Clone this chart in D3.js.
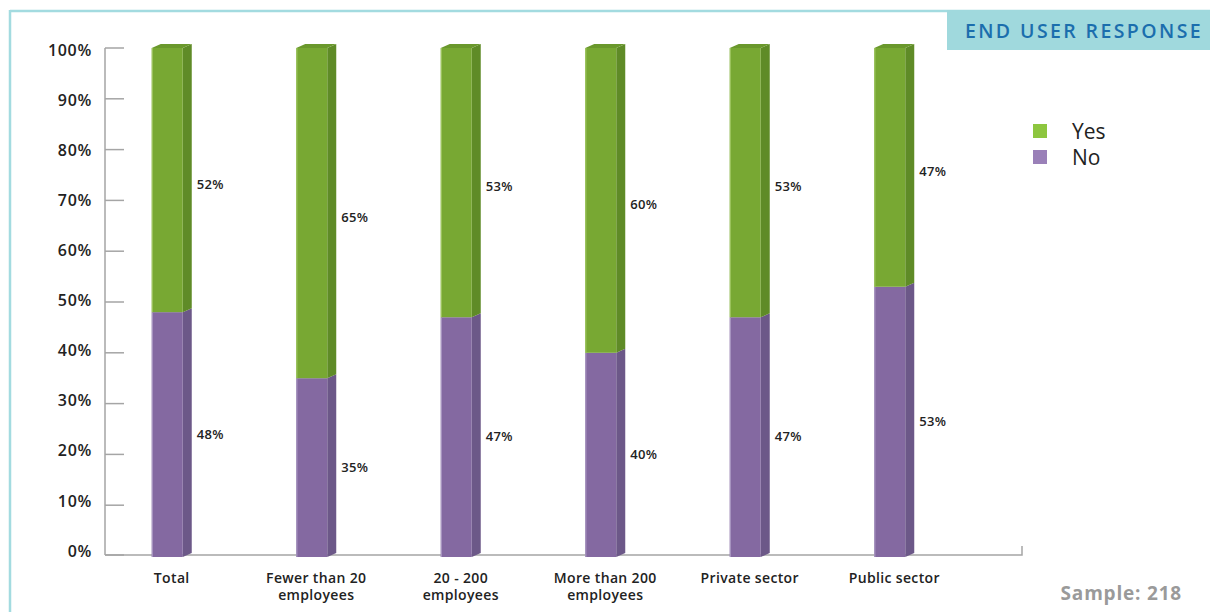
<!DOCTYPE html>
<html>
<head>
<meta charset="utf-8">
<script src="https://cdn.jsdelivr.net/npm/d3@7"></script>
<style>
  html, body { margin: 0; padding: 0; background: #fff; }
  svg { display: block; font-family: "Open Sans", "Lato", sans-serif; }
</style>
</head>
<body>
<svg id="chart" width="1210" height="612"></svg>
<script>
// Survey answers per group (percent of respondents)
const categories = [
  ["Total"],
  ["Fewer than 20", "employees"],
  ["20 - 200", "employees"],
  ["More than 200", "employees"],
  ["Private sector"],
  ["Public sector"]
];
const noValues  = [48, 35, 47, 40, 47, 53];
const yesValues = [52, 65, 53, 60, 53, 47];
const yTicks = [0, 10, 20, 30, 40, 50, 60, 70, 80, 90, 100];
const seriesNames = ["Yes", "No"];

const svg = d3.select("#chart");

// Frame and header tab
svg.append("line").attr("x1", 10).attr("y1", 11).attr("x2", 1210).attr("y2", 11)
  .attr("stroke", "#a3dbe0").attr("stroke-width", 2.5);
svg.append("line").attr("x1", 10).attr("y1", 10).attr("x2", 10).attr("y2", 612)
  .attr("stroke", "#a3dbe0").attr("stroke-width", 2.5);
svg.append("rect").attr("x", 947).attr("y", 10).attr("width", 263).attr("height", 40)
  .attr("fill", "#a0d9dd");
svg.append("text").attr("x", 1084).attr("y", 38).attr("text-anchor", "middle")
  .attr("font-size", 19.5).attr("font-weight", 600).attr("fill", "#1b6ead")
  .attr("letter-spacing", 2.4)
  .text("END USER RESPONSE");

const y = d3.scaleLinear().domain([0, 100]).range([556, 48]);
// tick labels sit on a slightly tighter spread than the tick marks
const yLabel = d3.scaleLinear().domain([0, 100]).range([551, 50]);
const x = d3.scaleBand().domain(d3.range(categories.length)).range([95, 962]).padding(0);
const barW = 31, depth = 9, lift = 4;

// Y axis
svg.selectAll(".ylab").data(yTicks).join("text")
  .attr("x", 92).attr("y", d => yLabel(d)).attr("dy", "0.35em").attr("text-anchor", "end")
  .attr("font-size", 16).attr("font-weight", 600).attr("fill", "#222").attr("letter-spacing", 0.7)
  .text(d => d + "%");
svg.append("line").attr("x1", 105).attr("x2", 105).attr("y1", y(100)).attr("y2", y(0) - 1)
  .attr("stroke", "#a5a5a5").attr("stroke-width", 1.5);
svg.selectAll(".ytick").data(yTicks).join("line")
  .attr("x1", 105).attr("x2", 124).attr("y1", d => y(d) - (d === 0 ? 1 : 0)).attr("y2", d => y(d) - (d === 0 ? 1 : 0))
  .attr("stroke", "#a5a5a5").attr("stroke-width", 1.5);
// Baseline with end tick
svg.append("path").attr("d", `M105,${y(0) - 1}H1022V${y(0) - 10}`)
  .attr("fill", "none").attr("stroke", "#a5a5a5").attr("stroke-width", 1.5);

// Stacked 3D bars
const colors = {
  Yes: { front: "#78a833", side: "#5f8b27", top: "#6a982c", edge: "#9cc45e" },
  No:  { front: "#8469a1", side: "#6c5888", top: "#76609a", edge: "#a896c0" }
};
const segments = [];
categories.forEach((c, i) => {
  segments.push({ i, key: "No", y0: 0, y1: noValues[i], v: noValues[i] });
  segments.push({ i, key: "Yes", y0: noValues[i], y1: noValues[i] + yesValues[i], v: yesValues[i] });
});
const bx = i => x(i) + x.bandwidth() / 2 - barW / 2;

const gb = svg.append("g");
segments.forEach(s => {
  const x0 = bx(s.i), top = y(s.y1), bot = y(s.y0) + (s.y0 === 0 ? 1 : 0);
  const c = colors[s.key];
  gb.append("path")
    .attr("d", `M${x0 + barW},${top}L${x0 + barW + depth},${top - lift}L${x0 + barW + depth},${bot - lift}L${x0 + barW},${bot}Z`)
    .attr("fill", c.side);
  gb.append("rect").attr("x", x0).attr("y", top).attr("width", barW).attr("height", bot - top)
    .attr("fill", c.front);
  gb.append("rect").attr("x", x0).attr("y", top).attr("width", 1.2).attr("height", bot - top)
    .attr("fill", c.edge);
  if (s.y1 >= 100) {
    gb.append("path")
      .attr("d", `M${x0},${top}L${x0 + depth},${top - lift}L${x0 + barW + depth},${top - lift}L${x0 + barW},${top}Z`)
      .attr("fill", c.top);
  }
  svg.append("text")
    .attr("x", x0 + barW + depth + 5)
    .attr("y", (y(s.y0) + y(s.y1)) / 2 + (s.key === "Yes" ? 4 : 0))
    .attr("dy", "0.35em")
    .attr("font-size", 13).attr("font-weight", 600).attr("fill", "#222").attr("letter-spacing", 0.3)
    .text(s.v + "%");
});

// Category labels
categories.forEach((lines, i) => {
  const cx = bx(i) + (barW + depth) / 2;
  const t = svg.append("text")
    .attr("x", cx).attr("y", 583).attr("text-anchor", "middle")
    .attr("font-size", 14).attr("font-weight", 600).attr("fill", "#222").attr("letter-spacing", 0.35);
  lines.forEach((ln, k) => t.append("tspan").attr("x", cx)
    .attr("dy", k === 0 ? 0 : 17).text(ln));
});

// Legend
const legendColors = { Yes: "#8dc63f", No: "#9a80b8" };
seriesNames.forEach((name, k) => {
  svg.append("rect").attr("x", 1033).attr("y", 124 + k * 26).attr("width", 14).attr("height", 14)
    .attr("fill", legendColors[name]);
  svg.append("text").attr("x", 1072).attr("y", 139 + k * 26)
    .attr("font-size", 21).attr("font-weight", 400).attr("fill", "#222").text(name);
});

// Sample size note
svg.append("text").attr("x", 1182).attr("y", 600).attr("text-anchor", "end")
  .attr("font-size", 19).attr("font-weight", 700).attr("fill", "#9a9a9a").attr("letter-spacing", 0.8)
  .text("Sample: 218");
</script>
</body>
</html>
